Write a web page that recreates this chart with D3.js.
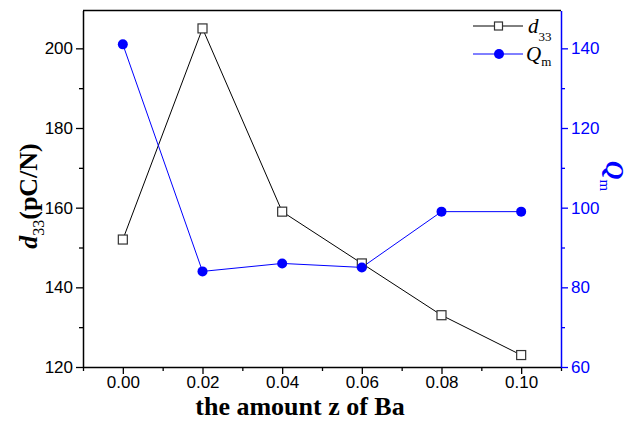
<!doctype html>
<html>
<head>
<meta charset="utf-8"/>
<title>d33 and Qm vs Ba</title>
<style>
  body, html { margin: 0; padding: 0; background: #fff; }
  svg { display: block; }
  .tick text { font-family: "Liberation Sans", Arial, sans-serif; font-size: 17px; }
</style>
<script src="https://d3js.org/d3.v7.min.js"></script>
</head>
<body>
<svg width="633" height="421"></svg>
<script>
var zValues = [0.00, 0.02, 0.04, 0.06, 0.08, 0.10];
var d33 = [152, 205, 159, 146, 133, 123];
var qm = [141, 84, 86, 85, 99, 99];
var xTicks = [0.00, 0.02, 0.04, 0.06, 0.08, 0.10];
var leftTicks = [120, 140, 160, 180, 200];
var rightTicks = [60, 80, 100, 120, 140];

var svg = d3.select("svg"),
    margin = {top: 10.5, right: 72, bottom: 54, left: 83},
    width = 633 - margin.left - margin.right,
    height = 421 - margin.top - margin.bottom;

var blue = "#0000ff";

var x = d3.scaleLinear().domain([-0.01, 0.11]).range([0, width]);
var yL = d3.scaleLinear().domain([120, 209.5]).range([height, 0]);
var yR = d3.scaleLinear().domain([60, 149.5]).range([height, 0]);

var g = svg.append("g")
  .attr("transform", "translate(" + margin.left + "," + margin.top + ")");

// frame top line
g.append("line").attr("x1", 0).attr("x2", width).attr("y1", 0).attr("y2", 0)
  .attr("stroke", "#000").attr("stroke-width", 1.5);

// minor ticks
var minorX = d3.range(-0.01, 0.111, 0.02);
g.append("g").attr("transform", "translate(0," + height + ")")
  .call(d3.axisBottom(x).tickValues(minorX).tickSize(4).tickFormat(""))
  .call(function(s) { s.select(".domain").remove(); s.selectAll("line").attr("stroke-width", 1.3); });
g.append("g")
  .call(d3.axisLeft(yL).tickValues([130, 150, 170, 190]).tickSize(4).tickFormat(""))
  .call(function(s) { s.select(".domain").remove(); s.selectAll("line").attr("stroke-width", 1.3); });
g.append("g").attr("transform", "translate(" + width + ",0)")
  .call(d3.axisRight(yR).tickValues([70, 90, 110, 130]).tickSize(4).tickFormat(""))
  .call(function(s) { s.select(".domain").remove(); s.selectAll("line").attr("stroke", blue).attr("stroke-width", 1.3); });

// main axes
var xAxis = g.append("g").attr("transform", "translate(0," + height + ")")
  .call(d3.axisBottom(x).tickValues(xTicks).tickSize(7).tickSizeOuter(0).tickPadding(2).tickFormat(d3.format(".2f")));
xAxis.select(".domain").attr("stroke-width", 1.5);
xAxis.selectAll("line").attr("stroke-width", 1.3);
xAxis.selectAll("text").attr("fill", "#000");

var leftAxis = g.append("g")
  .call(d3.axisLeft(yL).tickValues(leftTicks).tickSize(7).tickSizeOuter(0).tickPadding(3));
leftAxis.select(".domain").attr("stroke-width", 1.5);
leftAxis.selectAll("line").attr("stroke-width", 1.3);
leftAxis.selectAll("text").attr("fill", "#000");

var rightAxis = g.append("g").attr("transform", "translate(" + width + ",0)")
  .call(d3.axisRight(yR).tickValues(rightTicks).tickSize(7).tickSizeOuter(0).tickPadding(3));
rightAxis.select(".domain").attr("stroke", blue).attr("stroke-width", 1.5);
rightAxis.selectAll("line").attr("stroke", blue).attr("stroke-width", 1.3);
rightAxis.selectAll("text").attr("fill", blue);

// d33 series
var lineL = d3.line().x(function(d, i) { return x(zValues[i]); }).y(function(d) { return yL(d); });
g.append("path").datum(d33).attr("d", lineL)
  .attr("fill", "none").attr("stroke", "#000").attr("stroke-width", 1);

// Qm series
var lineR = d3.line().x(function(d, i) { return x(zValues[i]); }).y(function(d) { return yR(d); });
g.append("path").datum(qm).attr("d", lineR)
  .attr("fill", "none").attr("stroke", blue).attr("stroke-width", 1);

g.selectAll(".sq").data(d33).enter().append("rect")
  .attr("x", function(d, i) { return x(zValues[i]) - 4.5; })
  .attr("y", function(d) { return yL(d) - 4.5; })
  .attr("width", 9).attr("height", 9)
  .attr("fill", "#fff").attr("stroke", "#333").attr("stroke-width", 1.2);

g.selectAll(".dot").data(qm).enter().append("circle")
  .attr("cx", function(d, i) { return x(zValues[i]); })
  .attr("cy", function(d) { return yR(d); })
  .attr("r", 5).attr("fill", blue);

// legend
var serif = "'Liberation Serif', 'Times New Roman', serif";
var leg = svg.append("g");
leg.append("line").attr("x1", 473).attr("x2", 523).attr("y1", 26).attr("y2", 26)
  .attr("stroke", "#000").attr("stroke-width", 1);
leg.append("rect").attr("x", 494.5).attr("y", 22).attr("width", 8).attr("height", 8)
  .attr("fill", "#fff").attr("stroke", "#333").attr("stroke-width", 1.2);
var t1 = leg.append("text").attr("x", 528).attr("y", 33)
  .style("font-family", serif).style("font-size", "21px");
t1.append("tspan").style("font-style", "italic").text("d");
t1.append("tspan").attr("dy", 8).style("font-size", "13px").text("33");

leg.append("line").attr("x1", 473).attr("x2", 523).attr("y1", 54).attr("y2", 54)
  .attr("stroke", blue).attr("stroke-width", 1);
leg.append("circle").attr("cx", 499).attr("cy", 54).attr("r", 5).attr("fill", blue);
var t2 = leg.append("text").attr("x", 526).attr("y", 61)
  .style("font-family", serif).style("font-size", "21px");
t2.append("tspan").style("font-style", "italic").text("Q");
t2.append("tspan").attr("dy", 5).style("font-size", "13px").text("m");

// axis titles
svg.append("text").attr("x", 300).attr("y", 415)
  .attr("text-anchor", "middle")
  .style("font-family", serif).style("font-size", "26px").style("font-weight", "bold")
  .text("the amount z of Ba");

var yt = svg.append("text").attr("transform", "translate(37,196) rotate(-90)")
  .attr("text-anchor", "middle")
  .style("font-family", serif).style("font-size", "26px").style("font-weight", "bold");
yt.append("tspan").style("font-style", "italic").text("d");
yt.append("tspan").attr("dy", 7).style("font-size", "16px").style("font-weight", "normal").text("33");
yt.append("tspan").attr("dy", -7).text("(pC/N)");

var rt = svg.append("text").attr("transform", "translate(606,176) rotate(90)")
  .attr("text-anchor", "middle")
  .style("font-family", serif).style("font-size", "26px").style("font-weight", "bold")
  .attr("fill", blue);
rt.append("tspan").style("font-style", "italic").text("Q");
rt.append("tspan").attr("dy", 6).style("font-size", "15px").style("font-weight", "normal").text("m");
</script>
</body>
</html>
